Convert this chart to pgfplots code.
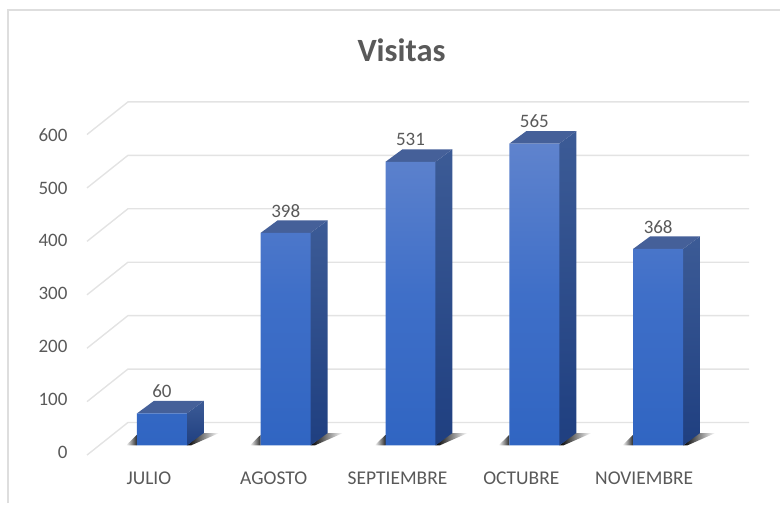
\documentclass[border=0pt]{standalone}
\usepackage{fontspec}
\setmainfont{Carlito}
\usepackage{pgfplots}
\pgfplotsset{compat=1.18}
\definecolor{txt}{HTML}{595959}
\definecolor{gridc}{HTML}{E3E3E3}
\definecolor{framec}{HTML}{DEDEDE}
\definecolor{frontT}{HTML}{5F83CD}
\definecolor{frontM}{HTML}{3F6FC8}
\definecolor{frontB}{HTML}{3065C2}
\definecolor{sideT}{HTML}{3C5B96}
\definecolor{sideB}{HTML}{1F3F80}
\definecolor{topc}{HTML}{456099}
% floor shadow, side face and top face of one bar: {centre x}{value}
\newcommand\barback[2]{
  \addplot[draw=none,left color=black,middle color=black!70,right color=white] coordinates {(#1+25,0) (#1+40,23) (#1+57,23) (#1+29,0)} --cycle;
  \addplot[draw=none,left color=white,right color=black!85] coordinates {(#1-36,0) (#1-25,20) (#1-25,0)} --cycle;
}
\newcommand\barfaces[2]{
  \addplot[draw=none,top color=sideT,bottom color=sideB] coordinates {(#1+25,0) (#1+42,23.4) (#1+42,#2+23.4) (#1+25,#2)} --cycle;
  \addplot[draw=none,fill=topc] coordinates {(#1-25,#2) (#1+25,#2) (#1+42,#2+23.4) (#1-8,#2+23.4)} --cycle;
}
\newcommand\gridl[1]{
  \addplot[gridc,line width=1.4pt] coordinates {(87,#1-18) (128,#1+43) (750,#1+43)};
}
\begin{document}
\begin{tikzpicture}
\begin{axis}[
  scale only axis, width=781pt, height=504pt,
  xmin=0, xmax=781, ymin=-108.4, ymax=833.6,
  clip=false,
  separate axis lines, axis line style={draw=none},
  major tick length=0pt,
  tick align=inside,
  xtick={149,274,398,522,645},
  xticklabels={JULIO,AGOSTO,SEPTIEMBRE,OCTUBRE,NOVIEMBRE},
  ytick={-13,86,185,284,383,482,581},
  yticklabels={0,100,200,300,400,500,600},
  x tick label style={font=\fontsize{19.5}{20}\selectfont,text=txt,anchor=center,yshift=25pt},
  y tick label style={font=\fontsize{19}{20}\selectfont,text=txt,anchor=east,xshift=71pt},
  /pgf/number format/assume math mode=true,
  bar width=50,
]
\addplot[framec,line width=2pt] coordinates {(8,-108.4) (8,815) (781,815)};
\node[text=txt,font=\fontsize{32.5}{33}\selectfont\bfseries] at (axis cs:402,740) {Visitas};
\gridl{0} \gridl{100} \gridl{200} \gridl{300} \gridl{400} \gridl{500} \gridl{600}
\barback{162}{60} \barback{286}{398} \barback{411}{531} \barback{535}{565} \barback{659}{368}
\barfaces{162}{60} \barfaces{286}{398} \barfaces{411}{531} \barfaces{535}{565} \barfaces{659}{368}
\addplot[ybar,draw=none,top color=frontT,bottom color=frontB,middle color=frontM,
  nodes near coords,
  every node near coord/.append style={font=\fontsize{19}{20}\selectfont,text=txt,anchor=center,yshift=22pt}]
  coordinates {(162,60) (286,398) (411,531) (535,565) (659,368)};
\end{axis}
\end{tikzpicture}
\end{document}
